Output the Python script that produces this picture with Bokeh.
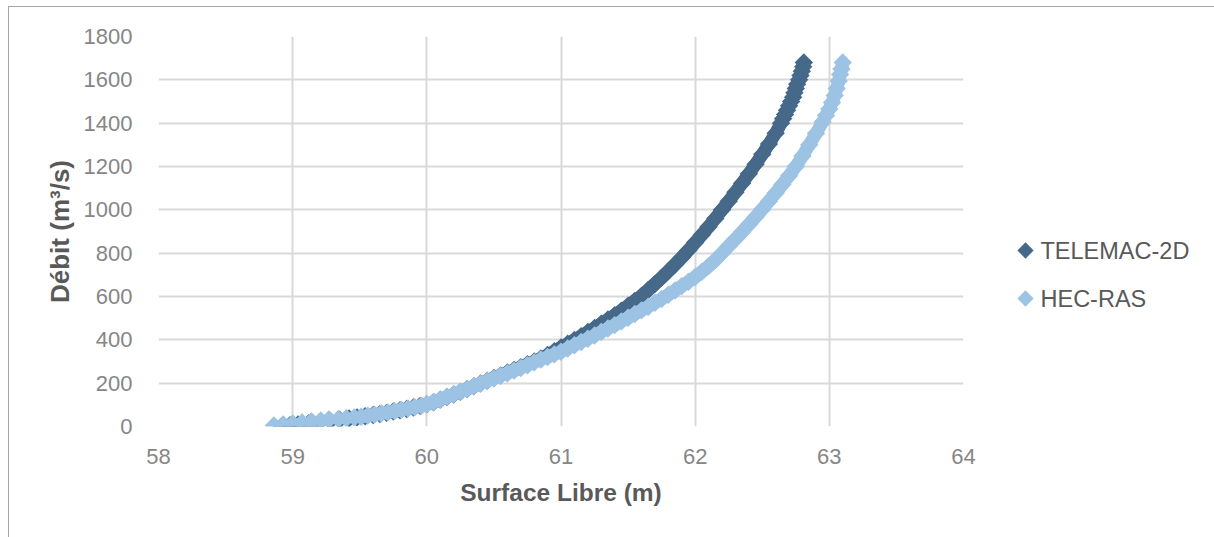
import math
from bokeh.plotting import figure
from bokeh.layouts import row
from bokeh.models import FixedTicker, Range1d
from bokeh.core.properties import value
from bokeh.embed import file_html
from bokeh.resources import INLINE

# TELEMAC-2D: water surface (m) and discharge (m3/s)
telemac_h = [58.92, 58.98, 59.04, 59.12, 59.20, 59.28, 59.35, 59.42, 59.48, 59.54,
             59.60, 59.65, 59.70, 59.75, 59.80, 59.85, 59.90, 59.95, 60.00, 60.05,
             60.10, 60.15, 60.20, 60.25, 60.30, 60.35, 60.40, 60.45, 60.50, 60.55,
             60.60, 60.65, 60.70, 60.75, 60.80, 60.85, 60.90, 60.95, 61.00, 61.05,
             61.10, 61.15, 61.20, 61.25, 61.30, 61.35, 61.40, 61.45, 61.50, 61.55,
             61.60, 61.65, 61.70, 61.75, 61.80, 61.85, 61.90, 61.95, 62.00, 62.05,
             62.10, 62.15, 62.20, 62.25, 62.30, 62.35, 62.40, 62.45, 62.50, 62.55,
             62.60, 62.64, 62.655, 62.67, 62.685, 62.70, 62.715, 62.73, 62.74, 62.75,
             62.76, 62.775, 62.785, 62.795, 62.805, 62.81]
telemac_q = [2, 6, 10, 15, 20, 26, 31, 37, 42, 47,
             53, 58, 63, 69, 75, 81, 88, 95, 102, 112,
             124, 136, 148, 160, 173, 186, 199, 211, 224, 236,
             249, 261, 274, 287, 300, 314, 330, 347, 365, 382,
             399, 417, 436, 455, 474, 494, 514, 535, 557, 580,
             603, 630, 658, 687, 717, 748, 780, 814, 849, 885,
             922, 960, 1000, 1040, 1081, 1123, 1166, 1210, 1256, 1304,
             1354, 1400, 1420, 1440, 1460, 1480, 1500, 1520, 1540, 1560,
             1580, 1600, 1620, 1640, 1660, 1680]

# HEC-RAS
hecras_h = [58.86, 58.93, 59.00, 59.07, 59.14, 59.21, 59.27, 59.34, 59.40, 59.46,
            59.51, 59.56, 59.61, 59.66, 59.71, 59.76, 59.81, 59.86, 59.91, 59.96,
            60.00, 60.05, 60.10, 60.15, 60.20, 60.25, 60.30, 60.35, 60.40, 60.45,
            60.50, 60.55, 60.60, 60.65, 60.70, 60.75, 60.80, 60.85, 60.90, 60.95,
            61.00, 61.05, 61.10, 61.15, 61.20, 61.25, 61.30, 61.35, 61.40, 61.45,
            61.50, 61.55, 61.60, 61.65, 61.70, 61.75, 61.80, 61.85, 61.90, 61.95,
            62.00, 62.05, 62.10, 62.15, 62.20, 62.25, 62.30, 62.35, 62.40, 62.45,
            62.50, 62.55, 62.60, 62.65, 62.70, 62.75, 62.80, 62.85, 62.90, 62.95,
            62.975, 63.00, 63.02, 63.04, 63.055, 63.07, 63.08, 63.09, 63.10]
hecras_q = [5, 9, 14, 19, 24, 28, 32, 35, 38, 42,
            45, 50, 55, 60, 65, 71, 77, 83, 89, 96,
            102, 113, 125, 137, 149, 161, 173, 186, 198, 210,
            222, 234, 246, 258, 270, 283, 296, 309, 321, 333,
            345, 360, 375, 390, 405, 420, 436, 452, 468, 485,
            502, 519, 536, 553, 571, 589, 608, 628, 648, 668,
            690, 714, 740, 768, 800, 833, 865, 898, 932, 967,
            1003, 1040, 1078, 1117, 1157, 1200, 1248, 1300, 1352, 1405,
            1435, 1465, 1495, 1528, 1560, 1595, 1625, 1650, 1680]

series_names = ["TELEMAC-2D", "HEC-RAS"]
x_ticks = [58, 59, 60, 61, 62, 63, 64]
y_ticks = [0, 200, 400, 600, 800, 1000, 1200, 1400, 1600, 1800]

dark = "#46698A"
light = "#9DC3E4"
colors = [dark, light]
font = "Liberation Sans"

W_MAIN, W_LEG, H = 980, 226, 530
B_TOP, B_BOTTOM = 29, 111

p = figure(width=W_MAIN, height=H, x_range=(58, 64), y_range=(0, 1800),
           output_backend="svg", toolbar_location=None,
           min_border_left=149, min_border_right=W_MAIN - 149 - 805,
           min_border_top=B_TOP, min_border_bottom=B_BOTTOM)
p.outline_line_color = None
p.background_fill_color = "white"
p.border_fill_color = "white"

for ax, ticks in ((p.xaxis, x_ticks), (p.yaxis, y_ticks)):
    ax.ticker = FixedTicker(ticks=ticks)
    ax.axis_line_color = None
    ax.major_tick_line_color = None
    ax.minor_tick_line_color = None
    ax.major_label_text_font = font
    ax.major_label_text_font_size = "22px"
    ax.major_label_text_color = "#868686"
    ax.axis_label_text_font = font
    ax.axis_label_text_font_style = "bold"
    ax.axis_label_text_color = "#595959"

p.xaxis.axis_label = "Surface Libre (m)"
p.yaxis.axis_label = "Débit (m³/s)"
p.xaxis.axis_label_text_font_size = "24.5px"
p.yaxis.axis_label_text_font_size = "26px"
p.yaxis.major_label_standoff = 20
p.yaxis.axis_label_standoff = 6
p.xaxis.major_label_standoff = 16
p.xaxis.axis_label_standoff = 12

p.xgrid.ticker = FixedTicker(ticks=x_ticks)
p.ygrid.ticker = FixedTicker(ticks=y_ticks)
for g in (p.xgrid, p.ygrid):
    g.grid_line_color = "#D9D9D9"
    g.grid_line_width = 2

p.line(telemac_h[8:], telemac_q[8:], line_width=13, line_color=dark, line_join="round")
p.scatter(telemac_h, telemac_q, marker="square", angle=math.pi / 4, size=13,
          fill_color=dark, line_color=None)
p.line(hecras_h[10:], hecras_q[10:], line_width=13, line_color=light, line_join="round")
p.scatter(hecras_h, hecras_q, marker="square", angle=math.pi / 4, size=13,
          fill_color=light, line_color=None)

# legend panel: pixel-like coordinates, y downwards, frame aligned with main frame
frame_h = H - B_TOP - B_BOTTOM
q = figure(width=W_LEG, height=H, x_range=Range1d(0, W_LEG),
           y_range=Range1d(frame_h, 0),
           output_backend="svg", toolbar_location=None,
           x_axis_location=None, y_axis_location=None,
           min_border_left=0, min_border_right=0,
           min_border_top=B_TOP, min_border_bottom=B_BOTTOM)
q.grid.visible = False
q.outline_line_color = None
q.background_fill_color = "white"
q.border_fill_color = "white"
leg_y = [214, 262]
q.scatter([36, 36], leg_y, marker="square", angle=math.pi / 4, size=11.5,
          fill_color=colors, line_color=None)
q.text([51, 51], leg_y, text=series_names, text_font=value(font),
       text_font_size="23.5px", text_baseline="middle", text_align="left",
       text_color="#595959")

lay = row(p, q, spacing=0)
lay.styles = {"border-top": "1px solid #A6A6A6", "border-left": "1px solid #A6A6A6",
              "margin-top": "6px", "margin-left": "8px"}

open("out.html", "w").write(file_html(lay, INLINE))
